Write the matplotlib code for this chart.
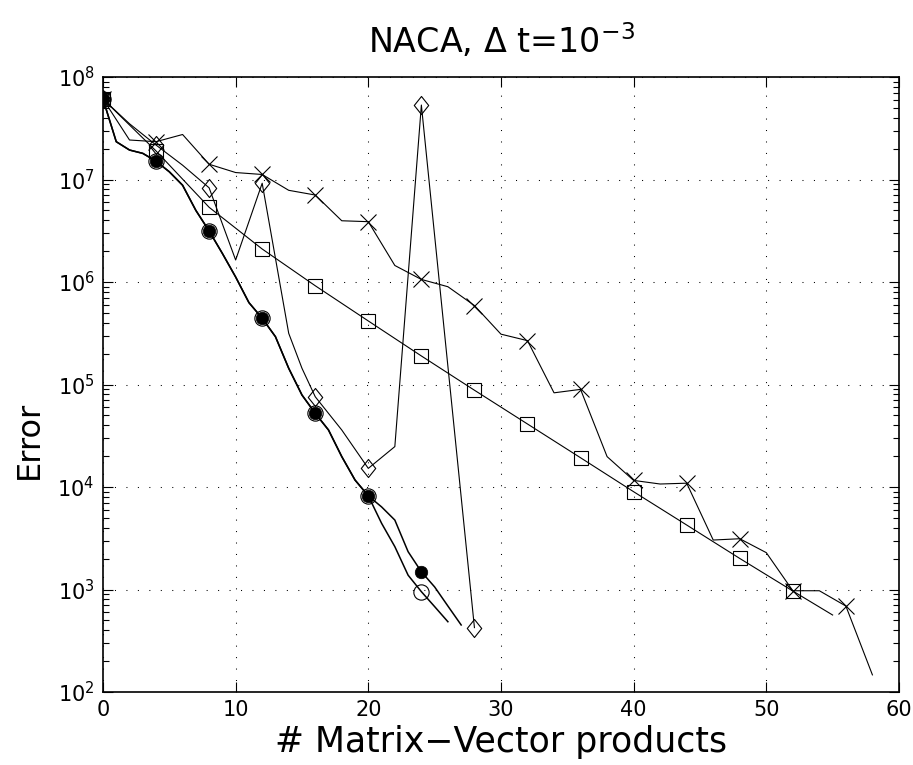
import matplotlib
matplotlib.use("Agg")
import matplotlib.pyplot as plt
from matplotlib.path import Path
from matplotlib.ticker import LogLocator, NullFormatter, MultipleLocator

plt.rcParams["font.family"] = ["DejaVu Sans"]
plt.rcParams["mathtext.fontset"] = "dejavusans"
plt.rcParams["mathtext.default"] = "regular"

# cross series, one value every 2 products
cross_x = list(range(0, 60, 2))
cross_err = [6.1e7, 2.43e7, 2.34e7, 2.75e7, 1.41e7, 1.17e7, 1.12e7, 7.85e6, 7.06e6, 3.96e6,
             3.88e6, 1.45e6, 1.06e6, 9.0e5, 5.9e5, 3.1e5, 2.68e5, 8.3e4, 8.97e4, 1.98e4,
             1.16e4, 1.07e4, 1.09e4, 3.04e3, 3.13e3, 2.29e3, 973, 973, 690, 147]

# square series
square_x = [0, 4, 8, 12, 16, 20, 24, 28, 32, 36, 40, 44, 48, 52, 55]
square_err = [6.1e7, 1.9e7, 5.36e6, 2.1e6, 9.2e5, 4.17e5, 1.9e5, 8.8e4, 4.12e4, 1.93e4,
              9.0e3, 4.26e3, 2.01e3, 967, 564]

# diamond series
diamond_x = [0, 2, 4, 6, 8, 10, 12, 14, 15, 16, 18, 20, 22, 24, 28]
diamond_err = [6.1e7, 3.5e7, 2.17e7, 1.38e7, 8.3e6, 1.64e6, 9.2e6, 3.16e5, 1.44e5, 7.6e4,
               3.6e4, 1.52e4, 2.48e4, 5.33e7, 425]

# the two circle series coincide up to 20 products
circle_shared = [6.1e7, 2.34e7, 1.94e7, 1.80e7, 1.51e7, 1.19e7, 8.8e6, 5.0e6, 3.15e6, 1.9e6,
                 1.12e6, 6.3e5, 4.43e5, 2.93e5, 1.44e5, 7.9e4, 5.24e4, 3.6e4, 1.98e4, 1.17e4,
                 8.2e3]
filled_tail = [6.4e3, 4.76e3, 2.34e3, 1.49e3, 1.06e3, 690, 451]
open_tail = [4.43e3, 2.62e3, 1.38e3, 953, 681, 485]

filled_err = circle_shared + filled_tail
open_err = circle_shared + open_tail
filled_x = list(range(len(filled_err)))
open_x = list(range(len(open_err)))

diamond_marker = Path([(-0.8, 0), (0, 1), (0.8, 0), (0, -1), (-0.8, 0)],
                      [Path.MOVETO, Path.LINETO, Path.LINETO, Path.LINETO, Path.CLOSEPOLY])

fig = plt.figure(figsize=(9.13, 7.65), dpi=100)
ax = fig.add_axes([0.1128, 0.0954, 0.8718, 0.8039])

thin = 0.8
ax.plot(cross_x, cross_err, color="k", lw=thin, marker="x", ms=11, mew=thin,
        markevery=2)
ax.plot(square_x, square_err, color="k", lw=thin, marker="s", ms=9.5, mew=thin,
        mfc="none", markevery=list(range(len(square_x) - 1)))
ax.plot(diamond_x, diamond_err, color="k", lw=thin, marker=diamond_marker, ms=13,
        mew=thin, mfc="none",
        markevery=[i for i, v in enumerate(diamond_x) if v % 4 == 0])
ax.plot(open_x, open_err, color="k", lw=1.1, marker="o", ms=11, mew=thin,
        mfc="none", markevery=4)
ax.plot(filled_x, filled_err, color="k", lw=1.1, marker="o", ms=9, mew=0.5,
        mfc="k", markevery=4)

ax.set_yscale("log")
ax.set_xlim(0, 60)
ax.set_ylim(1e2, 1e8)
ax.xaxis.set_major_locator(MultipleLocator(10))
ax.yaxis.set_major_locator(LogLocator(base=10, numticks=10))
ax.yaxis.set_minor_locator(LogLocator(base=10, subs=range(2, 10), numticks=20))
ax.yaxis.set_minor_formatter(NullFormatter())

ax.grid(True, which="major", color="k", lw=0.75, linestyle=(0, (1, 10)))
ax.tick_params(which="both", direction="in", top=True, right=True, labelsize=15,
               colors="k", width=0.8)
ax.tick_params(which="major", length=7, pad=6)
ax.tick_params(which="minor", length=4)
for s in ax.spines.values():
    s.set_linewidth(1.2)

ax.set_xlabel("# Matrix\u2212Vector products", fontsize=25, labelpad=3.5)
ax.set_ylabel("Error", fontsize=23)
ax.yaxis.set_label_coords(-0.073, 0.41)
ax.set_title(r"NACA, $\Delta$ t=10$^{-3}$", fontsize=24, pad=17)

fig.savefig("out.png", dpi=100)
